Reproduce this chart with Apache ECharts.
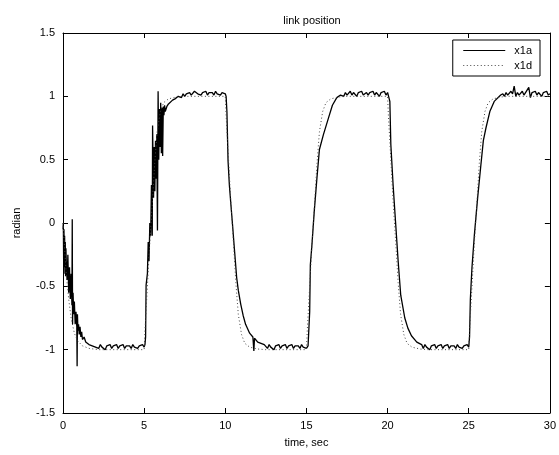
<!DOCTYPE html>
<html><head><meta charset="utf-8">
<script src="https://cdn.jsdelivr.net/npm/echarts@6/dist/echarts.min.js"></script>
<style>html,body{margin:0;padding:0;background:#fff}#c{width:559px;height:455px}</style>
</head><body><div id="c"></div>
<script>
var titleText = 'link position';
var xName = 'time, sec';
var yName = 'radian';
var seriesNames = ['x1a', 'x1d'];

// desired trajectory (dotted)
var x1dTime = [0,0.1,0.2,0.35,0.5,0.7,0.9,1.2,1.6,2.2,
  5.0,5.05,5.2,5.35,5.5,5.65,5.8,6.0,6.2,6.5,7.0,7.5,
  10.0,10.05,10.2,10.35,10.5,10.65,10.8,11.0,11.2,11.5,12.0,12.5,
  15.0,15.05,15.2,15.35,15.5,15.65,15.8,16.0,16.2,16.5,17.0,17.5,
  20.0,20.05,20.2,20.35,20.5,20.65,20.8,21.0,21.2,21.5,22.0,22.5,
  25.0,25.05,25.2,25.35,25.5,25.65,25.8,26.0,26.2,26.5,27.0,27.5,
  30.0];
var x1dValue = [0,-0.2,-0.4,-0.6,-0.75,-0.87,-0.93,-0.97,-0.99,-1,
  -1,-0.85,-0.5,-0.15,0.15,0.47,0.72,0.88,0.95,0.98,0.995,1,
  1,0.85,0.5,0.15,-0.15,-0.47,-0.72,-0.88,-0.95,-0.98,-0.995,-1,
  -1,-0.85,-0.5,-0.15,0.15,0.47,0.72,0.88,0.95,0.98,0.995,1,
  1,0.85,0.5,0.15,-0.15,-0.47,-0.72,-0.88,-0.95,-0.98,-0.995,-1,
  -1,-0.85,-0.5,-0.15,0.15,0.47,0.72,0.88,0.95,0.98,0.995,1,
  1];

// actual trajectory (solid)
var x1aTime = [
  0,0.02,0.04,0.06,0.08,0.1,0.12,0.14,0.16,0.18,0.2,0.25,
  0.3,0.35,0.4,0.45,0.5,0.55,0.57,0.59,0.62,0.66,0.7,0.75,
  0.8,0.85,0.87,0.89,0.92,0.96,1.0,1.05,1.1,1.15,1.2,1.3,
  1.4,1.5,1.6,1.7,1.8,1.9,2.0,2.1,
  2.2,2.3,2.4,2.5,2.6,2.7,2.8,2.9,3.0,3.1,3.2,3.3,3.4,3.5,3.6,3.7,3.8,3.9,4.0,4.1,4.2,4.3,4.4,4.5,4.6,4.7,4.8,4.9,5.0,
  5.05,5.09,5.12,5.2,5.25,5.3,5.35,5.4,5.45,5.5,5.52,5.58,
  5.62,5.66,5.7,5.74,5.78,5.82,5.86,5.9,5.94,5.98,6.02,6.06,
  6.1,6.14,6.18,6.22,6.26,6.3,6.4,6.5,6.6,6.75,6.9,
  7.0,7.1,7.2,7.3,7.4,7.5,7.6,7.7,7.8,7.9,8.0,8.1,8.2,8.3,8.4,8.5,8.6,8.7,8.8,8.9,9.0,9.1,9.2,9.3,9.4,9.5,9.6,9.7,9.8,9.9,10.0,
  10.05,10.1,10.17,10.25,10.33,10.45,10.54,10.62,10.7,10.8,10.95,11.1,
  11.25,11.5,11.7,11.76,11.8,12.0,12.2,12.4,
  12.5,12.6,12.7,12.8,12.9,13.0,13.1,13.2,13.3,13.4,13.5,13.6,13.7,13.8,13.9,14.0,14.1,14.2,14.3,14.4,14.5,14.6,14.7,14.8,14.9,15.0,15.1,
  15.2,15.24,15.34,15.48,15.65,15.8,16.05,16.36,16.6,16.87,17.1,
  17.2,17.3,17.4,17.5,17.6,17.7,17.8,17.9,18.0,18.1,18.2,18.3,18.4,18.5,18.6,18.7,18.8,18.9,19.0,19.1,19.2,19.3,19.4,19.5,19.6,19.7,19.8,19.9,20.0,
  20.14,20.2,20.34,20.49,20.65,20.81,21.06,21.25,21.47,21.8,22.1,
  22.2,22.3,22.4,22.5,22.6,22.7,22.8,22.9,23.0,23.1,23.2,23.3,23.4,23.5,23.6,23.7,23.8,23.9,24.0,24.1,24.2,24.3,24.4,24.5,24.6,24.7,24.8,24.9,25.0,
  25.05,25.1,25.2,25.35,25.55,25.75,25.9,26.06,26.3,26.57,26.97,
  27.1,27.2,27.3,27.4,27.5,27.6,27.7,27.8,27.9,28.0,28.1,28.2,28.3,28.4,28.5,28.6,28.7,28.8,28.9,29.0,29.1,29.2,29.3,29.4,29.5,29.6,29.7,29.8,29.9,30.0];
var x1aValue = [
  -0.05,0.0,-0.3,-0.05,-0.35,-0.1,-0.4,-0.15,-0.42,-0.2,-0.3,-0.45,
  -0.25,-0.55,-0.35,-0.6,-0.4,-0.65,0.03,-0.8,-0.55,-0.72,-0.62,-0.8,
  -0.7,-0.82,-1.13,-0.72,-0.85,-0.8,-0.88,-0.82,-0.9,-0.86,-0.92,-0.9,
  -0.94,-0.93,-0.96,-0.95,-0.97,-0.96,-0.98,-0.97,
  -0.99,-0.96,-0.98,-0.97,-1.0,-0.97,-0.98,-0.96,-0.99,-0.97,-0.98,-0.96,-0.99,-0.97,-0.98,-0.96,-0.99,-0.97,-0.98,-0.97,-0.99,-0.96,-0.98,-0.97,-0.99,-0.97,-0.98,-0.96,-0.98,
  -0.96,-0.9,-0.49,-0.4,-0.15,-0.3,0.0,-0.1,0.3,-0.1,0.77,0.2,
  0.6,0.25,0.65,0.35,0.7,-0.06,1.04,0.5,0.9,0.6,0.95,0.55,
  0.91,0.53,0.92,0.85,0.93,0.88,0.92,0.94,0.95,0.97,0.98,
  0.99,1.0,1.01,0.99,1.02,1.0,1.02,1.01,1.03,1.01,1.02,1.04,1.05,1.02,1.03,1.01,1.03,1.02,1.04,1.01,1.03,1.02,1.03,1.01,1.04,1.02,1.03,1.01,1.03,1.02,1.02,
  1.0,0.88,0.49,0.3,0.17,-0.02,-0.17,-0.3,-0.43,-0.53,-0.64,-0.73,
  -0.8,-0.87,-0.9,-1.01,-0.91,-0.94,-0.95,-0.96,
  -0.97,-0.99,-0.96,-0.98,-0.97,-1.0,-0.97,-0.98,-0.96,-0.99,-0.97,-0.98,-0.96,-0.99,-0.97,-0.98,-0.96,-0.99,-0.97,-0.98,-0.97,-0.99,-0.96,-0.98,-0.97,-0.99,-0.97,
  -0.7,-0.33,-0.17,0.09,0.36,0.58,0.7,0.83,0.93,0.99,1.01,
  1.02,1.0,1.03,1.01,1.02,1.04,1.01,1.03,1.02,1.0,1.03,1.02,1.04,1.01,1.02,1.03,1.01,1.03,1.02,1.04,1.01,1.03,1.02,1.0,1.03,1.02,1.04,1.01,1.03,
  0.96,0.62,0.3,0.01,-0.3,-0.57,-0.75,-0.83,-0.89,-0.94,-0.96,
  -0.99,-0.96,-0.98,-0.97,-1.0,-0.97,-0.98,-0.96,-0.99,-0.97,-0.98,-0.96,-0.99,-0.97,-0.98,-0.96,-0.99,-0.97,-0.98,-0.97,-0.99,-0.96,-0.98,-0.97,-0.99,-0.97,-0.98,-0.96,-0.98,
  -0.9,-0.6,-0.35,-0.09,0.2,0.46,0.65,0.75,0.88,0.96,1.01,
  1.02,1.0,1.03,1.01,1.02,1.04,1.02,1.08,1.0,1.03,1.01,1.02,1.04,1.01,1.03,1.02,1.07,0.99,1.03,1.02,1.04,1.01,1.03,1.02,1.0,1.03,1.02,1.04,1.01,1.02];

var xMin = 0, xMax = 30, xStep = 5;
var yMin = -1.5, yMax = 1.5, yStep = 0.5;

function zip(ts, vs) { return ts.map(function (t, i) { return [t, vs[i]]; }); }

var FONT = 'Liberation Sans';
var axisCommon = {
  axisLine: { show: true, onZero: false, lineStyle: { color: '#000', width: 1 } },
  axisTick: { show: true, inside: true, length: 5, lineStyle: { color: '#000' } },
  splitLine: { show: false }
};

var chart = echarts.init(document.getElementById('c'), null, { renderer: 'canvas' });
chart.setOption({
  backgroundColor: '#fff',
  animation: false,
  title: {
    text: titleText, left: 307, top: 10, textAlign: 'center',
    textStyle: { fontFamily: FONT, fontSize: 11, fontWeight: 'normal', color: '#000' }
  },
  legend: {
    orient: 'vertical', right: 19, top: 40,
    backgroundColor: '#fff',
    borderColor: '#000', borderWidth: 1, borderRadius: 0,
    padding: [5, 8, 5, 10], itemWidth: 42, itemHeight: 12, itemGap: 4,
    itemStyle: { opacity: 0 },
    lineStyle: { width: 1 },
    textStyle: { fontFamily: FONT, fontSize: 11, color: '#000', padding: [0, 0, 0, 4] },
    data: seriesNames
  },
  grid: { left: 63, right: 7, top: 33, bottom: 42 },
  xAxis: [
    Object.assign({
      type: 'value', position: 'bottom', min: xMin, max: xMax, interval: xStep,
      name: xName, nameLocation: 'middle', nameGap: 24,
      nameTextStyle: { fontFamily: FONT, fontSize: 11, color: '#000' },
      axisLabel: { fontFamily: FONT, fontSize: 11, color: '#000', margin: 7 }
    }, axisCommon),
    Object.assign({
      type: 'value', position: 'top', min: xMin, max: xMax, interval: xStep,
      axisLabel: { show: false }
    }, axisCommon)
  ],
  yAxis: [
    Object.assign({
      type: 'value', position: 'left', min: yMin, max: yMax, interval: yStep,
      name: yName, nameLocation: 'middle', nameGap: 41, nameRotate: 90,
      nameTextStyle: { fontFamily: FONT, fontSize: 11, color: '#000' },
      axisLabel: { fontFamily: FONT, fontSize: 11, color: '#000', margin: 8 }
    }, axisCommon),
    Object.assign({
      type: 'value', position: 'right', min: yMin, max: yMax, interval: yStep,
      axisLabel: { show: false }
    }, axisCommon)
  ],
  series: [
    {
      name: seriesNames[0], type: 'line', xAxisIndex: 0, yAxisIndex: 0,
      symbol: 'none', showSymbol: false, smooth: false,
      lineStyle: { color: '#000', width: 1.3, type: 'solid' },
      itemStyle: { color: '#000' },
      data: zip(x1aTime, x1aValue)
    },
    {
      name: seriesNames[1], type: 'line', xAxisIndex: 0, yAxisIndex: 0,
      symbol: 'none', showSymbol: false, smooth: false,
      lineStyle: { color: '#444', width: 1, type: [1, 2.5] },
      itemStyle: { color: '#444' },
      data: zip(x1dTime, x1dValue)
    }
  ]
});
</script></body></html>
